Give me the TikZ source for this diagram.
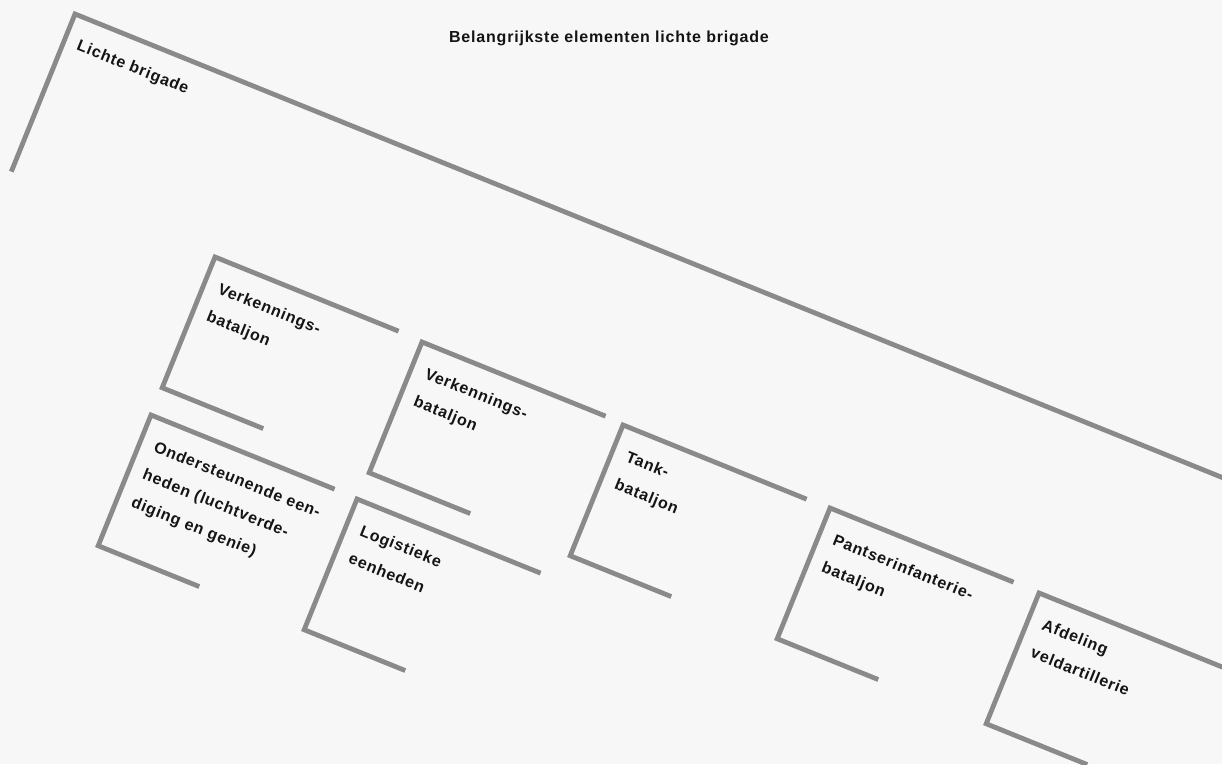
\documentclass[tikz,border=0pt]{standalone}
\usepackage{fontspec}
\newfontfamily\labfont{Liberation Sans}[LetterSpace=5]
\definecolor{bg}{HTML}{F7F7F7}
\definecolor{linegray}{HTML}{8A8A8A}
\definecolor{ink}{HTML}{141414}
\tikzset{
  bracket/.style={draw=linegray,line width=4.8pt,line cap=butt,line join=miter},
  lbl/.style={inner sep=0pt,anchor=north west,align=left,text=ink,
    font=\labfont\bfseries\fontsize{16}{30}\selectfont},
  ttl/.style={inner sep=0pt,anchor=base,text=ink,
    font=\labfont\bfseries\fontsize{16}{18}\selectfont}
}
\newcommand\orgbox[6]{%
  \begin{scope}[shift={(#2,764-#3)},rotate=-22,transform shape]
    \draw[bracket] (198,0) -- (0,0) -- (0,-#4) -- ++(#5,0);
    \node[lbl] (#1) at (15,-21) {#6};
  \end{scope}}
\begin{document}
\begin{tikzpicture}[x=1pt,y=1pt]
  \useasboundingbox (0,0) rectangle (1222,764);
  \fill[bg] (0,0) rectangle (1222,764);
  \clip (0,0) rectangle (1222,764);
  \node[ttl] (title) at (609,764-43) {Belangrijkste elementen lichte brigade};
  \begin{scope}[shift={(75,764-14)},rotate=-22,transform shape]
    \draw[bracket] (1400,0) -- (0,0) -- (0,-170);
    \node[lbl] (brigade) at (14,-21) {Lichte brigade};
  \end{scope}
  \orgbox{verk1}{215}{257}{141}{109}{Verkennings-\\bataljon}
  \orgbox{verk2}{422}{342}{141}{109}{Verkennings-\\bataljon}
  \orgbox{onder}{151}{415}{141}{109}{Ondersteunende een-\\heden (luchtverde-\\diging en genie)}
  \orgbox{logi}{357}{499}{141}{109}{Logistieke\\eenheden}
  \orgbox{tank}{623}{425}{141}{109}{Tank-\\bataljon}
  \orgbox{pantser}{830}{508}{141}{109}{Pantserinfanterie-\\bataljon}
  \orgbox{afd}{1039}{593}{141}{109}{Afdeling\\veldartillerie}
\end{tikzpicture}
\end{document}
